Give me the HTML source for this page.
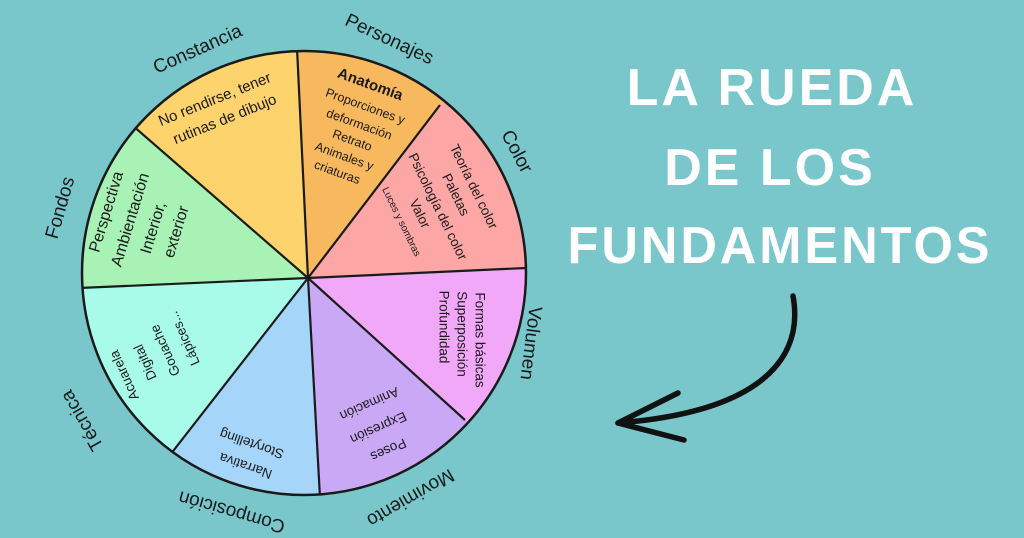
<!DOCTYPE html>
<html><head><meta charset="utf-8"><style>
html,body{margin:0;padding:0;background:#79c7cb;width:1024px;height:538px;overflow:hidden;}
svg{display:block;overflow:hidden;}
</style></head><body>
<svg width="1024" height="538" viewBox="0 0 1024 538" xmlns="http://www.w3.org/2000/svg" overflow="hidden">
<rect width="1024" height="538" fill="#79c7cb"/>
<defs><clipPath id="c"><circle cx="304" cy="273" r="222"/></clipPath><clipPath id="f"><rect width="1024" height="538"/></clipPath></defs>
<g clip-path="url(#f)">
<g clip-path="url(#c)">
<polygon points="308,278 -132,-104 280,-297" fill="#fdd36e"/>
<polygon points="308,278 280,-297 638,-154" fill="#f8b95e"/>
<polygon points="308,278 638,-154 840,256" fill="#fca6a6"/>
<polygon points="308,278 840,256 700,633" fill="#f1a8f8"/>
<polygon points="308,278 700,633 338,820" fill="#c9a8f6"/>
<polygon points="308,278 338,820 -37,720" fill="#a5d5f9"/>
<polygon points="308,278 -37,720 -249,303" fill="#a8fbe8"/>
<polygon points="308,278 -249,303 -132,-104" fill="#a8f2b6"/>
<g stroke="#1a1a1a" stroke-width="2.2">
<line x1="308" y1="278" x2="297" y2="48"/>
<line x1="308" y1="278" x2="440" y2="105"/>
<line x1="308" y1="278" x2="526" y2="268"/>
<line x1="308" y1="278" x2="465" y2="420"/>
<line x1="308" y1="278" x2="320" y2="498"/>
<line x1="308" y1="278" x2="170" y2="455"/>
<line x1="308" y1="278" x2="80" y2="288"/>
<line x1="308" y1="278" x2="132" y2="125"/>
</g>
</g>
<circle cx="304" cy="273" r="222" fill="none" stroke="#1a1a1a" stroke-width="2.5"/>

<g font-family="Liberation Sans, sans-serif" fill="#1a1a1a" text-anchor="middle" dominant-baseline="middle">
<g font-size="19">
<text transform="translate(198,50) rotate(-24)">Constancia</text>
<text transform="translate(389,40) rotate(25)">Personajes</text>
<text transform="translate(516,152) rotate(62)">Color</text>
<text transform="translate(530,343) rotate(97)">Volumen</text>
<text transform="translate(410,497) rotate(150)">Movimiento</text>
<text transform="translate(232,511) rotate(196)">Composición</text>
<text transform="translate(83,420) rotate(-120)">Técnica</text>
<text transform="translate(61,208) rotate(-74)">Fondos</text>
</g>
<g font-size="15">
<text transform="translate(215,100) rotate(-22)">No rendirse, tener</text>
<text transform="translate(225,120) rotate(-22)">rutinas de dibujo</text>
</g>
<g transform="translate(370,85) rotate(20)"><text font-size="15" font-weight="bold">Anatomía</text></g>
<g font-size="12.5">
<text transform="translate(365,107) rotate(20)">Proporciones y</text>
<text transform="translate(359,125) rotate(20)">deformación</text>
<text transform="translate(352,141) rotate(20)">Retrato</text>
<text transform="translate(344,157) rotate(20)">Animales y</text>
<text transform="translate(337,173) rotate(20)">criaturas</text>
</g>
<g font-size="13.5">
<text transform="translate(473,187) rotate(64)">Teoría del color</text>
<text transform="translate(455,195) rotate(64)">Paletas</text>
<text transform="translate(437,207) rotate(64)">Psicología del color</text>
<text transform="translate(419,214) rotate(64)">Valor</text>
</g>
<text font-size="10" transform="translate(401,222) rotate(64)">Luces y sombras</text>
<g font-size="13.5">
<text transform="translate(479,340) rotate(90)">Formas básicas</text>
<text transform="translate(461,334) rotate(90)">Superposición</text>
<text transform="translate(443,327) rotate(90)">Profundidad</text>
<text transform="translate(369,403) rotate(156)">Animación</text>
<text transform="translate(378,427) rotate(156)">Expresión</text>
<text transform="translate(388,449) rotate(156)">Poses</text>
<text transform="translate(252,443) rotate(199)">Storytelling</text>
<text transform="translate(246,465) rotate(199)">Narrativa</text>
<text transform="translate(185,338) rotate(-114)">Lápices...</text>
<text transform="translate(166,350) rotate(-114)">Gouache</text>
<text transform="translate(146,362) rotate(-114)">Digital</text>
<text transform="translate(125,375) rotate(-114)">Acuarela</text>
</g>
<g font-size="16">
<text transform="translate(107,212) rotate(-73)">Perspectiva</text>
<text transform="translate(131,220) rotate(-73)">Ambientación</text>
<text transform="translate(154,228) rotate(-73)">Interior,</text>
<text transform="translate(177,232) rotate(-73)">exterior</text>
</g>
</g>

<g font-family="Liberation Sans, sans-serif" font-weight="bold" fill="#ffffff" text-anchor="middle" font-size="52" letter-spacing="3">
<text x="772" y="105">LA RUEDA</text>
<text x="770" y="185">DE LOS</text>
<text x="780" y="263" textLength="425" lengthAdjust="spacingAndGlyphs">FUNDAMENTOS</text>
</g>

<g fill="none" stroke="#111" stroke-width="5.5" stroke-linecap="round" stroke-linejoin="round">
<path d="M793,296 C802,345 780,410 618,423"/>
<path d="M678,393 L618,423 L684,440"/>
</g>
</g>
</svg>
</body></html>
